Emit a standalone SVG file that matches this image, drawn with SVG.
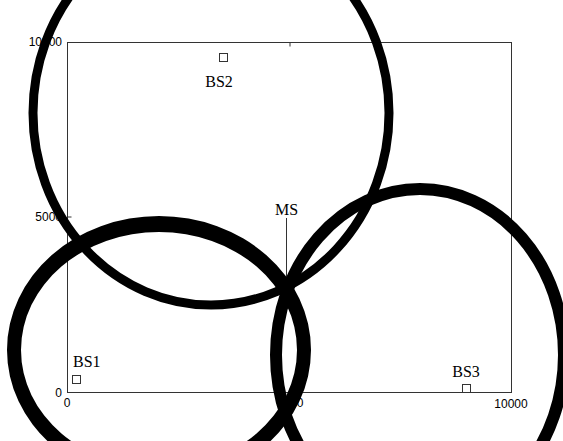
<svg xmlns="http://www.w3.org/2000/svg" width="563" height="441" viewBox="0 0 563 441">
<style>
.ax{fill:none;stroke:#333;stroke-width:1}
.num{font-family:"Liberation Sans",Arial,sans-serif;font-size:12px;fill:#000}
.lbl{font-family:"Liberation Serif","Times New Roman",serif;font-size:16px;fill:#000}
.bs{fill:#fff;stroke:#333;stroke-width:1}
.ring{fill:none;stroke:#000}
</style>
<rect width="563" height="441" fill="#fff"/>
<g id="axes">
<rect class="ax" x="67.5" y="42.5" width="444" height="350"/>
<path class="ax" d="M290,42.5V46.5M67.5,217H71.5M290,392.5V388.5"/>
<text class="num" x="62" y="46" text-anchor="end">10000</text>
<text class="num" x="62" y="221" text-anchor="end">5000</text>
<text class="num" x="62" y="397" text-anchor="end">0</text>
<text class="num" x="67" y="407" text-anchor="middle">0</text>
<text class="num" x="290" y="407" text-anchor="middle">5000</text>
<text class="num" x="511" y="408" text-anchor="middle">10000</text>
</g>
<g id="connectors">
<line class="ax" x1="286.5" y1="218" x2="286.5" y2="285"/>
</g>
<g id="BS1">
<rect class="bs" x="72.5" y="375.5" width="8" height="8"/>
<text class="lbl" x="73" y="367">BS1</text>
</g>
<g id="BS2">
<rect class="bs" x="219.5" y="53.5" width="8" height="8"/>
<text class="lbl" x="219" y="87" text-anchor="middle">BS2</text>
</g>
<g id="BS3">
<rect class="bs" x="462.5" y="384.5" width="8" height="8"/>
<text class="lbl" x="466" y="377" text-anchor="middle">BS3</text>
</g>
<g id="MS">
<text class="lbl" x="286.5" y="215" text-anchor="middle">MS</text>
</g>
<g id="ranges">
<ellipse class="ring" cx="211" cy="113" rx="178" ry="192" stroke-width="9"/>
<path fill="#000" fill-rule="evenodd" d="M7,350a152,134 0 1,0 304,0a152,134 0 1,0 -304,0ZM21,350a138,118 0 1,0 276,0a138,118 0 1,0 -276,0Z"/>
<ellipse class="ring" cx="420" cy="355" rx="144" ry="166" stroke-width="12"/>
</g>
</svg>
